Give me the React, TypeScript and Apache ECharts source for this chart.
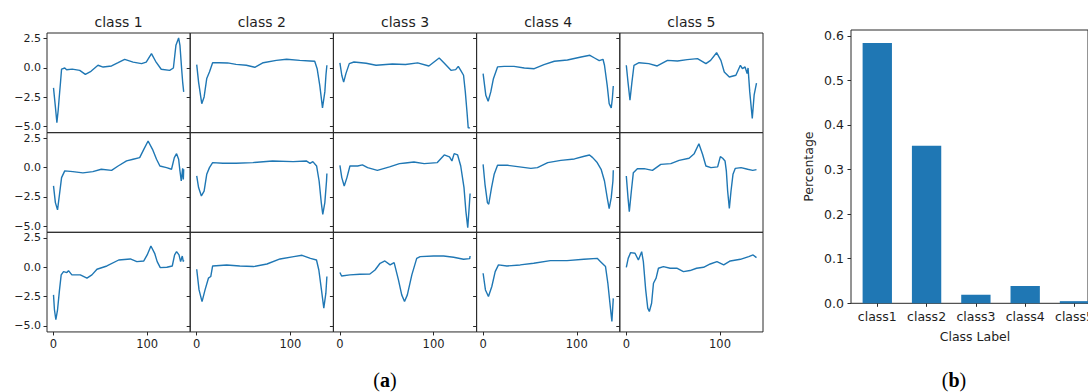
import React, { useEffect, useRef } from 'react';
import * as echarts from 'echarts';

const classTitles = ['class 1', 'class 2', 'class 3', 'class 4', 'class 5'];
const xTickValues = [0, 100];
const yTickValues = [-5, -2.5, 0, 2.5];

// Sample waveforms (x index, value). Row 1
const class1Sample1 = [[0,-1.7],[2,-3.3],[3.6,-4.66],[5,-3.6],[6,-2.6],[7.5,-1.2],[8.6,-0.1],[12,0],[14,-0.15],[20,-0.1],[28,-0.2],[34,-0.54],[40,-0.28],[47.5,0.23],[53,0.08],[62,0.17],[69,0.45],[76,0.74],[85,0.5],[94,0.37],[99,0.5],[104.6,1.22],[109,0.57],[115,-0.11],[124,-0.2],[128,0],[130.7,1.93],[133.6,2.56],[135,1.93],[136.8,-0.06],[137.9,-1.2],[139,-2.04]];
const class2Sample1 = [[0,0.28],[2,-1.2],[5.4,-3.04],[7.9,-2.47],[10.7,-0.9],[13.6,-0.34],[17,0.45],[24,0.45],[33,0.43],[42,0.31],[53,0.23],[62,0.06],[71,0.45],[85,0.65],[96,0.74],[110,0.65],[121,0.6],[126,0.57],[128.6,-0.06],[131.4,-1.48],[134.3,-3.4],[136.8,-2.04],[138,-0.6],[139,0.23]];
const class3Sample1 = [[0,0.43],[2,-0.62],[4,-1.2],[6.4,-0.48],[10,0.37],[15,0.51],[28,0.4],[38.6,0.23],[45.7,0.28],[56,0.34],[70,0.3],[83,0.43],[95,0.17],[106,0.85],[111,0.45],[118.6,-0.2],[123.6,-0.14],[126.4,0.14],[129,-0.2],[132,-0.62],[133.9,-2.04],[135.7,-3.75],[137,-5.1],[139,-5.1]];
const class4Sample1 = [[0,-0.48],[2.9,-2.33],[5.4,-2.84],[8.2,-2.04],[11,-0.91],[15.4,0.09],[22.5,0.14],[33,0.14],[44,0],[54.6,-0.06],[65,0.28],[76,0.57],[90,0.68],[104.6,0.94],[114,1.08],[119,0.85],[124,0.62],[128,0.74],[129.6,0.23],[132.5,-1.48],[134.6,-3.04],[136.8,-3.4],[138,-2.6],[139,-1.53]];
const class5Sample1 = [[0,0.23],[1.8,-1.2],[3.9,-2.75],[6,-1.2],[8.2,0.23],[13.6,0.45],[24,0.37],[33,0.17],[44,0.65],[54.6,0.6],[65,0.71],[76,0.8],[85,0.37],[90,0.65],[96.4,1.3],[101,0.65],[104.6,-0.34],[110,-0.77],[117,-0.62],[121.8,0.23],[124,-0.06],[126.8,0.09],[129,-0.48],[130,0],[131.8,-2.04],[134.5,-4.3],[136.5,-2.3],[139,-1.3]];

// Row 2
const class1Sample2 = [[0,-1.56],[2,-2.98],[4.3,-3.6],[6.4,-2.27],[8.6,-0.85],[12,-0.28],[20.7,-0.34],[31.4,-0.45],[42,-0.34],[51,-0.14],[62,-0.23],[69,0.14],[78,0.57],[85,0.71],[92,0.85],[96.4,1.56],[101,2.27],[105.7,1.56],[110,0.71],[113.6,0.14],[120.7,0],[126,-0.14],[129,0.85],[131.4,1.19],[133.6,0.71],[135,-0.28],[136.4,-1.14],[137.9,-0.06],[138.6,-1.0],[139,-0.14]];
const class2Sample2 = [[0,-0.71],[2,-1.7],[5,-2.41],[7.9,-2.0],[10.7,-0.57],[13.6,0],[17,0.43],[28,0.37],[42,0.37],[60,0.43],[81,0.57],[103,0.51],[117,0.57],[121,0.37],[124,0.51],[128,0.14],[130.7,-1.14],[133,-2.98],[134.6,-3.98],[136.8,-2.98],[138.6,-1.14],[139,-0.5]];
const class3Sample2 = [[0,0.2],[2,-0.85],[4.6,-1.56],[7.5,-0.85],[10.7,0.14],[19,0.14],[24,0.23],[29.6,0],[40,-0.23],[53,0.06],[63.6,0.34],[70,0.4],[79,0.48],[90,0.34],[104,0.43],[111.4,1.08],[117,0.91],[119.6,0.57],[122,1.19],[125.7,1.08],[129,0.14],[132.5,-1.7],[134.5,-3.7],[136.5,-5.11],[138,-3.4],[139,-2.2]];
const class4Sample2 = [[0,0.28],[2,-1.42],[4.6,-2.98],[6,-3.12],[9,-1.7],[11.8,-0.57],[15.4,0.2],[26,0.2],[36.8,0.09],[51,-0.06],[58,0],[69,0.43],[83,0.62],[97.5,0.74],[108,0.97],[113.6,1.08],[117,0.85],[121.8,0.43],[126,-0.14],[129.6,-1.14],[132.5,-2.56],[134.6,-3.5],[136.8,-2.56],[138.6,-1.14],[139,-0.23]];
const class5Sample2 = [[0,-0.71],[1.8,-2.56],[3.2,-3.75],[5.4,-1.99],[7.5,-0.43],[11.8,-0.09],[19,-0.09],[27.9,-0.23],[36.8,0.28],[47.5,0.34],[56.4,0.62],[67,0.8],[72.5,1.19],[77.5,2.04],[81.4,1.14],[85,0.14],[90.4,0],[97.5,0.06],[100.4,0.94],[102.9,0.8],[105.4,0.57],[106.8,-0.28],[108.2,-1.99],[110,-3.47],[111.8,-1.99],[113.9,-0.57],[116.4,-0.06],[122.5,0],[129.6,-0.14],[135,-0.23],[139,-0.17]];

// Row 3
const class1Sample3 = [[0,-2.35],[1,-3.62],[2.5,-4.47],[4.3,-3.62],[6.4,-1.93],[8.2,-0.65],[10.7,-0.37],[14.3,-0.45],[16,-0.28],[19.6,-0.65],[28.6,-0.65],[35.7,-0.93],[41,-0.65],[46.4,-0.17],[57,0.11],[69.6,0.62],[82,0.71],[89,0.48],[96.4,0.54],[100,1.05],[104,1.81],[108,1.19],[110.7,0.48],[114,-0.03],[121,0],[126.8,0.11],[129.3,1.05],[131.4,1.33],[134,1.05],[135.7,0.48],[137.5,0.96],[138.6,0.48],[139,0.62]];
const class2Sample3 = [[0,-0.17],[2.5,-1.93],[5.7,-2.92],[8.9,-1.93],[12.5,-0.93],[15,-0.79],[17,0.11],[32,0.2],[46,0.11],[60.7,0.06],[75,0.28],[89,0.71],[103.6,0.91],[112.5,1.02],[121.4,0.76],[127.9,0.62],[130.4,-0.23],[133.2,-1.93],[135.7,-3.48],[137.9,-2.21],[139,-0.79]];
const class3Sample3 = [[0,-0.45],[1.8,-0.74],[10.7,-0.65],[21.4,-0.6],[32,-0.57],[37.5,-0.23],[42.9,0.34],[48,0.54],[53.6,0.2],[57.9,0.4],[62.5,-1.08],[66,-2.35],[69,-2.92],[72,-2.35],[76.8,-0.65],[82,0.76],[85.7,0.91],[100,0.96],[110.7,0.96],[121.4,0.85],[132,0.68],[138.6,0.74],[139,0.96]];
const class4Sample3 = [[0,-0.51],[2.5,-1.93],[5.7,-2.49],[9.3,-1.64],[12.9,-0.37],[16.4,0.2],[25.4,0.11],[39.6,0.2],[54,0.34],[71.8,0.57],[89.6,0.57],[107.5,0.68],[121.8,0.76],[125.4,0.48],[130.7,0.06],[133.2,-1.36],[135.4,-3.06],[137.5,-4.62],[139,-2.65]];
const class5Sample3 = [[0,0],[2,0.76],[4.6,1.25],[9.3,1.19],[12.9,0.62],[16.4,1.33],[18.2,0.48],[20.7,-1.93],[22.9,-3.48],[24.6,-3.77],[27,-3.06],[29,-1.36],[31.8,-0.93],[34.3,-0.08],[39.6,0.06],[46.8,-0.08],[53.9,-0.08],[61,-0.37],[68,-0.28],[75,-0.08],[82.5,0],[89.6,0.28],[96.8,0.48],[104,0.2],[111,0.54],[121.8,0.68],[130.7,0.91],[135.4,1.05],[139,0.82]];

const samples = [
  [class1Sample1, class2Sample1, class3Sample1, class4Sample1, class5Sample1],
  [class1Sample2, class2Sample2, class3Sample2, class4Sample2, class5Sample2],
  [class1Sample3, class2Sample3, class3Sample3, class4Sample3, class5Sample3],
];

const barCategories = ['class1', 'class2', 'class3', 'class4', 'class5'];
const barValues = [0.5838, 0.3534, 0.0192, 0.0388, 0.0048];
const barTickValues = [0, 0.1, 0.2, 0.3, 0.4, 0.5, 0.6];
const barPositions = [0, 1, 2, 3, 4];

const FONT = 'DejaVu Sans';
const TXT = '#1e1e1e';
const AX = '#2a2a2a';
const BLUE = '#1f77b4';
const BAR_FRACTION = 0.595;

function buildOption() {
  const grid: any[] = [];
  const xAxis: any[] = [];
  const yAxis: any[] = [];
  const series: any[] = [];
  const colW = 143.2;
  const rowH = 99.65;
  const fmt = (v: number) => v.toFixed(1).replace('-', '\u2212');
  for (let r = 0; r < 3; r++) {
    for (let c = 0; c < 5; c++) {
      const idx = r * 5 + c;
      grid.push({
        left: 47 + colW * c, top: 33 + rowH * r, width: colW, height: rowH,
        show: true, borderColor: AX, borderWidth: 1, backgroundColor: 'transparent',
        containLabel: false, outerBoundsMode: 'none',
      });
      xAxis.push({
        type: 'value', gridIndex: idx, min: -6.95, max: 145.95, position: 'bottom',
        axisLine: { show: false, onZero: false }, splitLine: { show: false },
        axisTick: { show: r === 2, customValues: xTickValues, length: 3.5, lineStyle: { color: AX } },
        axisLabel: { show: r === 2, customValues: xTickValues, margin: 6, fontSize: 11.5, color: TXT, fontFamily: FONT },
      });
      yAxis.push({
        type: 'value', gridIndex: idx, min: -5.51, max: 2.98, position: 'left',
        axisLine: { show: false, onZero: false }, splitLine: { show: false },
        axisTick: { show: true, customValues: yTickValues, length: 3.5, lineStyle: { color: AX } },
        axisLabel: { show: c === 0, customValues: yTickValues, formatter: fmt, margin: 6, fontSize: 11, color: TXT, fontFamily: FONT },
      });
      series.push({
        type: 'line', xAxisIndex: idx, yAxisIndex: idx, data: samples[r][c],
        symbol: 'none', silent: true, lineStyle: { width: 1.4, color: BLUE },
      });
    }
  }
  // bar chart (its right part lies beyond the picture edge, as in the reference)
  grid.push({
    left: 851, top: 30, width: 237, height: 273.3, show: true, borderColor: AX, borderWidth: 1,
    backgroundColor: 'transparent', containLabel: false, outerBoundsMode: 'none',
  });
  xAxis.push({
    type: 'value', gridIndex: 15, min: -0.533, max: 4.274, position: 'bottom',
    axisLine: { show: false, onZero: false }, splitLine: { show: false },
    axisTick: { customValues: barPositions, length: 3.5, lineStyle: { color: AX } },
    axisLabel: {
      customValues: barPositions, formatter: (v: number) => barCategories[Math.round(v)] ?? '',
      margin: 7, fontSize: 12.5, color: TXT, fontFamily: FONT, hideOverlap: false,
    },
  });
  yAxis.push({
    type: 'value', gridIndex: 15, min: 0, max: 0.613, position: 'left',
    axisLine: { show: false, onZero: false }, splitLine: { show: false },
    axisTick: { customValues: barTickValues, length: 3.5, lineStyle: { color: AX } },
    axisLabel: { customValues: barTickValues, formatter: (v: number) => v.toFixed(1), margin: 7, fontSize: 12.5, color: TXT, fontFamily: FONT },
    name: 'Percentage', nameLocation: 'middle', nameGap: 36, nameRotate: 90,
    nameTextStyle: { fontSize: 12.5, color: TXT, fontFamily: FONT },
  });
  series.push({
    type: 'custom', xAxisIndex: 15, yAxisIndex: 15, silent: true,
    data: barValues.map((v, i) => [barPositions[i], v]),
    renderItem: (_params: any, api: any) => {
      const x = api.value(0);
      const v = api.value(1);
      const top = api.coord([x, v]);
      const base = api.coord([x, 0]);
      const w = api.size([BAR_FRACTION, 0])[0];
      return {
        type: 'rect',
        shape: { x: top[0] - w / 2, y: top[1], width: w, height: base[1] - top[1] },
        style: { fill: BLUE },
      };
    },
  });

  const graphic: any[] = classTitles.map((t, c) => ({
    type: 'text', x: 47 + colW * c + colW / 2, y: 22,
    style: { text: t, fill: TXT, font: `14px "${FONT}"`, textAlign: 'center', textVerticalAlign: 'middle' },
  }));
  graphic.push({
    type: 'text', x: 975, y: 336,
    style: { text: 'Class Label', fill: TXT, font: `12.5px "${FONT}"`, textAlign: 'center', textVerticalAlign: 'middle' },
  });
  const serif = 'Liberation Serif';
  graphic.push({
    type: 'text', x: 385, y: 380,
    style: {
      text: '({b|a})', fill: '#000', fontSize: 20, fontFamily: serif, textAlign: 'center', textVerticalAlign: 'middle',
      rich: { b: { fontWeight: 'bold', fontSize: 20, fontFamily: serif, fill: '#000' } },
    },
  });
  graphic.push({
    type: 'text', x: 954, y: 380,
    style: {
      text: '({b|b})', fill: '#000', fontSize: 20, fontFamily: serif, textAlign: 'center', textVerticalAlign: 'middle',
      rich: { b: { fontWeight: 'bold', fontSize: 20, fontFamily: serif, fill: '#000' } },
    },
  });

  return { animation: false, backgroundColor: '#fff', grid, xAxis, yAxis, series, graphic };
}

export default function App() {
  const ref = useRef<HTMLDivElement>(null);
  useEffect(() => {
    if (!ref.current) return;
    const chart = echarts.init(ref.current, undefined, { renderer: 'svg' });
    chart.setOption(buildOption() as any);
    return () => chart.dispose();
  }, []);
  return <div ref={ref} style={{ position: 'fixed', left: 0, top: 0, width: 1088, height: 392 }} />;
}
